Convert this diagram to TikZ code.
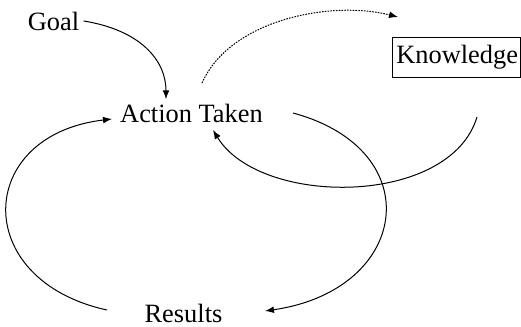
\documentclass[tikz,border=0pt]{standalone}
\usepackage{fontspec}
\setmainfont{Liberation Serif}
\usetikzlibrary{arrows.meta}
\begin{document}
\begin{tikzpicture}[x=0.5pt, y=-0.5pt,
  lbl/.style={font=\fontsize{13.2pt}{15.5pt}\selectfont, inner sep=0pt, anchor=base},
  boxed/.style={lbl, draw, line width=0.5pt, anchor=center, inner xsep=1.25pt,
    text width=61.5pt, align=right, minimum height=20pt},
  link/.style={line width=0.5pt, -{Latex[length=4.5pt, width=3.4pt]}},
  hint/.style={link, dash pattern=on 0.8pt off 0.6pt}]
\useasboundingbox (0,0) rectangle (521,327);

\node[lbl] (goal) at (53.5,30) {Goal};
\node[lbl] (act) at (191.5,122) {Action Taken};
\node[boxed] (know) at (456.5,57) {Knowledge};
\node[lbl] (res) at (183.5,322) {Results};

% Goal feeds the action
\draw[link] ([xshift=2pt]goal.east) .. controls (140,30) and (166,60) .. ([yshift=2pt]act.north -| 166,0);
% action reaches for knowledge
\coordinate (actTop) at (202,83);
\coordinate (knowIn) at (398,17);
\draw[hint] (actTop) .. controls (230,20) and (330,0) .. (knowIn);
% knowledge flows back into the action
\coordinate (knowOut) at (477,117);
\coordinate (actRight) at (213,130);
\draw[link] (knowOut) .. controls (450,207) and (260,207) .. (actRight);
% action produces results
\coordinate (actOut) at (293,113);
\coordinate (resIn) at (265,311);
\draw[link] (actOut) .. controls (430,150) and (410,290) .. (resIn);
% results loop back to the action
\coordinate (resOut) at (107,310);
\coordinate (actLeft) at (112,119);
\draw[link] (resOut) .. controls (-30,280) and (-25,135) .. (actLeft);
\end{tikzpicture}
\end{document}
